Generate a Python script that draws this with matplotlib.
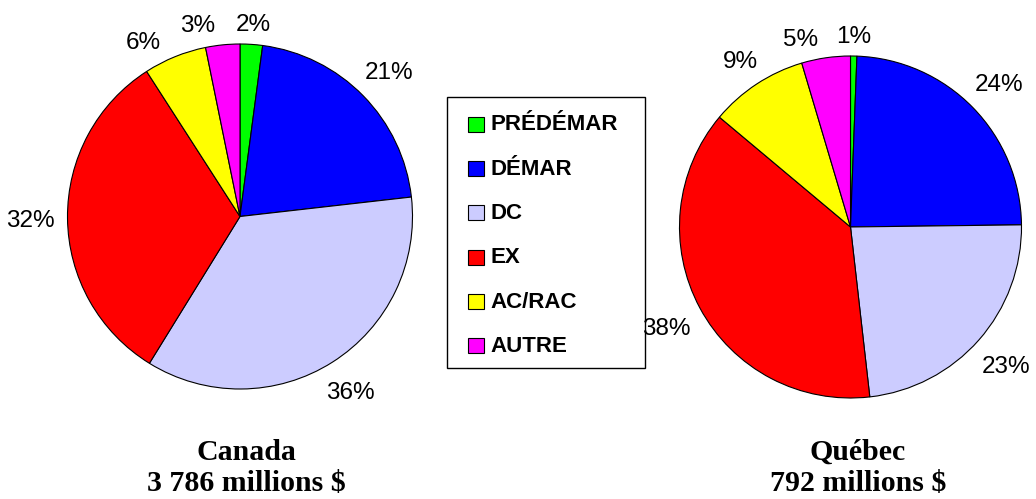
import matplotlib
matplotlib.use("Agg")
import matplotlib.pyplot as plt
from matplotlib.patches import Rectangle
import numpy as np

W, H, DPI = 1036, 499, 100

# ---- data ----
categories = ["PRÉDÉMAR", "DÉMAR", "DC", "EX", "AC/RAC", "AUTRE"]
colors = ["#00FF00", "#0000FF", "#CCCCFF", "#FF0000", "#FFFF00", "#FF00FF"]
canada_shares = [2.1, 21.1, 35.6, 32.1, 5.9, 3.2]
quebec_shares = [0.6, 24.2, 23.4, 37.9, 9.3, 4.6]
region_names = ["Canada", "Québec"]
region_totals = ["3 786 millions $", "792 millions $"]

LABEL_FS = 17.5
fig = plt.figure(figsize=(W / DPI, H / DPI), dpi=DPI)
fig.patch.set_facecolor("white")

# overlay axes in pixel coordinates (y downward) for legend and titles
ov = fig.add_axes([0, 0, 1, 1], zorder=0)
ov.set_xlim(0, W)
ov.set_ylim(H, 0)
ov.axis("off")
ov.patch.set_visible(False)

renderer = fig.canvas.get_renderer()


def draw_pie(cx, cy, r, shares, name, total, title_x):
    ax = fig.add_axes([(cx - r) / W, (H - cy - r) / H, 2 * r / W, 2 * r / H], zorder=1)
    wedges, _ = ax.pie(shares, colors=colors, startangle=90, counterclock=False,
                       radius=1, wedgeprops=dict(edgecolor="black", linewidth=0.8))
    ax.set_xlim(-1, 1)
    ax.set_ylim(-1, 1)
    ax.axis("off")
    tot = float(sum(shares))
    gap = 12.5
    em = LABEL_FS * DPI / 72.0
    hh = 0.358 * em
    texts, hws, angles = [], [], []
    for w, s in zip(wedges, shares):
        pct = 100.0 * s / tot
        lab = f"{int(round(pct + 1e-9))}%"
        t = ax.text(0, 0, lab, ha="center", va="baseline", fontsize=LABEL_FS,
                    family="Liberation Sans", color="black")
        bb = t.get_window_extent(renderer)
        texts.append(t)
        hws.append(bb.width / 2)
        angles.append((w.theta1 + w.theta2) / 2)

    def center(th_deg, hw):
        th = np.deg2rad(th_deg)
        c, sn = np.cos(th), np.sin(th)
        d = r + gap + hw * abs(c) + hh * abs(sn)
        return d * c, d * sn

    # simple collision avoidance going counter-clockwise from the top
    n = len(texts)
    pos = [None] * n
    pos[0] = center(angles[0], hws[0])
    prev = 0
    padx, pady = 18.0, 2.0
    for i in range(n - 1, 0, -1):
        th = angles[i]
        while True:
            x, y = center(th, hws[i])
            px, py = pos[prev]
            overlap = (abs(x - px) < hws[i] + hws[prev] + padx) and (abs(y - py) < 2 * hh + pady)
            if not overlap or th > angles[i] + 60:
                break
            th += 0.5
        pos[i] = (x, y)
        prev = i
    for t, (x, y) in zip(texts, pos):
        t.set_position((x / r, (y - hh) / r))

    ov.text(title_x, 459.5, name, ha="center", va="baseline", fontsize=21.5,
            family="Liberation Serif", fontweight="bold")
    ov.text(title_x, 491, total, ha="center", va="baseline", fontsize=21.5,
            family="Liberation Serif", fontweight="bold")


draw_pie(240, 216.5, 172.5, canada_shares, region_names[0], region_totals[0], 246)
draw_pie(850.5, 227, 171, quebec_shares, region_names[1], region_totals[1], 858)

# legend
ov.add_patch(Rectangle((447, 97), 198, 271, fill=False, edgecolor="black", linewidth=1.0))
y0, dy = 124.3, 44.3
for i, (cat, col) in enumerate(zip(categories, colors)):
    yc = y0 + i * dy
    ov.add_patch(Rectangle((467.5, yc - 7.5), 16, 15, facecolor=col, edgecolor="black",
                           linewidth=0.8))
    ov.text(490, yc + 0.5, cat, ha="left", va="center", fontsize=16,
            family="Liberation Sans", fontweight="bold")

fig.savefig("out.png", dpi=DPI)
